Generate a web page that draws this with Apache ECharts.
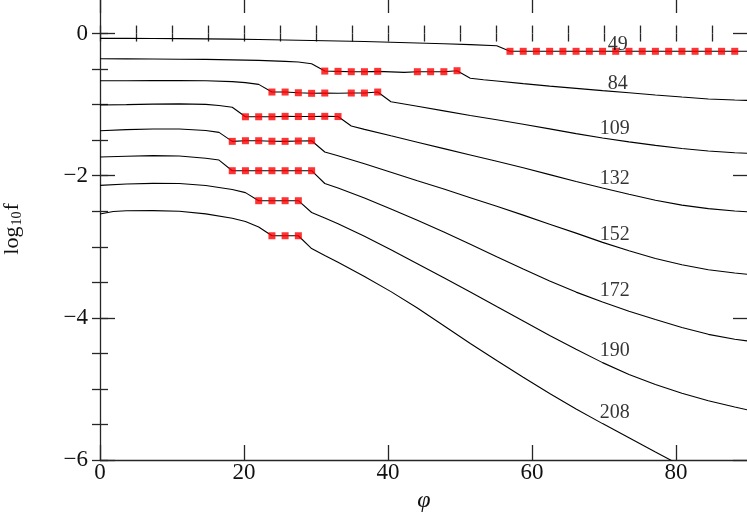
<!DOCTYPE html>
<html>
<head>
<meta charset="utf-8">
<script src="https://cdn.jsdelivr.net/npm/echarts@6/dist/echarts.min.js"></script>
<style>
html,body{margin:0;padding:0;background:#fff;}
#chart{width:747px;height:514px;}
</style>
</head>
<body>
<div id="chart"></div>
<script>
// ---- data ----
const CURVE_NAMES = ['49', '84', '109', '132', '152', '172', '190', '208'];

const PHI_49 = [0, 3.67, 7.35, 11.02, 14.69, 18.37, 22.04, 25.71, 29.39, 33.06, 36.73, 40.41, 44.08, 47.76, 51.43, 55.10, 56.94, 58.78, 60.61, 62.45, 64.29, 66.12, 67.96, 69.80, 71.63, 73.47, 75.31, 77.14, 78.98, 80.82, 82.65, 84.49, 86.33, 88.16, 90.00];
const LOGF_49 = [-0.068, -0.068, -0.069, -0.072, -0.075, -0.079, -0.084, -0.090, -0.097, -0.104, -0.113, -0.122, -0.133, -0.144, -0.156, -0.172, -0.250, -0.250, -0.250, -0.250, -0.250, -0.250, -0.250, -0.250, -0.250, -0.250, -0.250, -0.250, -0.250, -0.250, -0.250, -0.250, -0.250, -0.250, -0.250];
const MARK_49 = [56.94, 58.78, 60.61, 62.45, 64.29, 66.12, 67.96, 69.80, 71.63, 73.47, 75.31, 77.14, 78.98, 80.82, 82.65, 84.49, 86.33, 88.16];

const PHI_84 = [0, 3.67, 7.35, 11.02, 14.69, 18.37, 22.04, 25.71, 27.55, 29.39, 31.22, 33.06, 34.90, 36.73, 38.57, 40.41, 42.24, 44.08, 45.92, 47.76, 49.59, 51.43, 53.27, 55.10, 58.78, 62.45, 66.12, 69.80, 73.47, 77.14, 80.82, 84.49, 88.16, 90.00];
const LOGF_84 = [-0.355, -0.356, -0.359, -0.362, -0.364, -0.370, -0.378, -0.391, -0.401, -0.425, -0.528, -0.532, -0.537, -0.537, -0.532, -0.539, -0.546, -0.537, -0.537, -0.537, -0.523, -0.630, -0.650, -0.668, -0.705, -0.740, -0.772, -0.803, -0.833, -0.864, -0.893, -0.920, -0.936, -0.940];
const MARK_84 = [31.22, 33.06, 34.90, 36.73, 38.57, 44.08, 45.92, 47.76, 49.59];

const PHI_109 = [0, 3.67, 7.35, 11.02, 14.69, 18.37, 20.20, 22.04, 23.88, 25.71, 27.55, 29.39, 31.22, 33.06, 34.90, 36.73, 38.57, 40.41, 42.24, 44.08, 47.76, 51.43, 55.10, 58.78, 62.45, 66.12, 69.80, 73.47, 77.14, 80.82, 84.49, 88.16, 90.00];
const LOGF_109 = [-0.665, -0.664, -0.663, -0.663, -0.665, -0.677, -0.691, -0.715, -0.823, -0.823, -0.833, -0.841, -0.837, -0.841, -0.837, -0.837, -0.823, -0.960, -0.992, -1.024, -1.088, -1.152, -1.214, -1.276, -1.341, -1.408, -1.469, -1.524, -1.573, -1.617, -1.652, -1.677, -1.685];
const MARK_109 = [23.88, 25.71, 27.55, 29.39, 31.22, 34.90, 36.73, 38.57];

const PHI_132 = [0, 3.67, 7.35, 11.02, 14.69, 16.53, 18.37, 20.20, 22.04, 23.88, 25.71, 27.55, 29.39, 31.22, 33.06, 34.90, 36.73, 40.41, 44.08, 47.76, 51.43, 55.10, 58.78, 62.45, 66.12, 69.80, 73.47, 77.14, 80.82, 84.49, 88.16, 90.00];
const LOGF_132 = [-1.006, -1.000, -0.993, -0.989, -0.996, -1.013, -1.038, -1.171, -1.171, -1.171, -1.165, -1.168, -1.168, -1.165, -1.168, -1.301, -1.348, -1.439, -1.529, -1.619, -1.709, -1.798, -1.889, -1.985, -2.081, -2.174, -2.262, -2.345, -2.414, -2.463, -2.497, -2.508];
const MARK_132 = [20.20, 22.04, 23.88, 25.71, 27.55, 29.39, 31.22, 33.06];

const PHI_152 = [0, 3.67, 7.35, 11.02, 14.69, 16.53, 18.37, 20.20, 22.04, 23.88, 25.71, 27.55, 29.39, 31.22, 33.06, 36.73, 40.41, 44.08, 47.76, 51.43, 55.10, 58.78, 62.45, 66.12, 69.80, 73.47, 77.14, 80.82, 84.49, 88.16, 90.00];
const LOGF_152 = [-1.368, -1.352, -1.344, -1.344, -1.365, -1.390, -1.517, -1.508, -1.508, -1.515, -1.517, -1.512, -1.508, -1.667, -1.719, -1.833, -1.951, -2.070, -2.188, -2.309, -2.430, -2.555, -2.682, -2.808, -2.938, -3.057, -3.164, -3.254, -3.323, -3.370, -3.388];
const MARK_152 = [18.37, 20.20, 22.04, 23.88, 25.71, 27.55, 29.39];

const PHI_172 = [0, 3.67, 7.35, 11.02, 14.69, 16.53, 18.37, 20.20, 22.04, 23.88, 25.71, 27.55, 29.39, 31.22, 33.06, 36.73, 40.41, 44.08, 47.76, 51.43, 55.10, 58.78, 62.45, 66.12, 69.80, 73.47, 77.14, 80.82, 84.49, 88.16, 90.00];
const LOGF_172 = [-1.738, -1.726, -1.718, -1.722, -1.754, -1.780, -1.930, -1.930, -1.930, -1.930, -1.930, -1.930, -1.930, -2.110, -2.174, -2.314, -2.469, -2.628, -2.793, -2.964, -3.139, -3.312, -3.482, -3.638, -3.778, -3.906, -4.024, -4.135, -4.232, -4.301, -4.326];
const MARK_172 = [18.37, 20.20, 22.04, 23.88, 25.71, 27.55, 29.39];

const PHI_190 = [0, 3.67, 7.35, 11.02, 14.69, 18.37, 20.20, 22.04, 23.88, 25.71, 27.55, 29.39, 31.22, 33.06, 36.73, 40.41, 44.08, 47.76, 51.43, 55.10, 58.78, 62.45, 66.12, 69.80, 73.47, 77.14, 80.82, 84.49, 88.16, 90.00];
const LOGF_190 = [-2.136, -2.117, -2.108, -2.110, -2.138, -2.195, -2.238, -2.352, -2.352, -2.352, -2.352, -2.518, -2.596, -2.675, -2.852, -3.043, -3.240, -3.437, -3.637, -3.841, -4.045, -4.249, -4.443, -4.630, -4.796, -4.938, -5.062, -5.167, -5.255, -5.297];
const MARK_190 = [22.04, 23.88, 25.71, 27.55];

const PHI_208 = [0, 1.84, 3.67, 7.35, 11.02, 14.69, 18.37, 20.20, 22.04, 23.88, 25.71, 27.55, 29.39, 31.22, 33.06, 36.73, 40.41, 44.08, 47.76, 51.43, 55.10, 58.78, 62.45, 66.12, 69.80, 73.47, 77.14, 80.82, 84.49, 88.16, 90.00];
const LOGF_208 = [-2.539, -2.504, -2.494, -2.492, -2.501, -2.537, -2.599, -2.645, -2.722, -2.845, -2.845, -2.845, -3.025, -3.123, -3.219, -3.419, -3.631, -3.862, -4.111, -4.360, -4.601, -4.835, -5.065, -5.283, -5.488, -5.688, -5.888, -6.085, -6.273, -6.456, -6.545];
const MARK_208 = [23.88, 25.71, 27.55];

// curve labels: where each label sits (phi, log10 f)
const LABEL_PHI = [71.9, 71.9, 71.5, 71.5, 71.5, 71.5, 71.5, 71.5];
const LABEL_LOGF = [-0.162, -0.703, -1.346, -2.050, -2.824, -3.620, -4.464, -5.332];

// axis ticks
const X_MIN = 0, X_MAX = 90, X_MAJOR = 20, X_MINOR = 5;
const Y_MIN = -6, Y_MAX = 0.5, Y_MAJOR = 2, Y_MINOR = 0.5;

// ---- chart ----
const CURVES = [
  [PHI_49, LOGF_49, MARK_49], [PHI_84, LOGF_84, MARK_84], [PHI_109, LOGF_109, MARK_109],
  [PHI_132, LOGF_132, MARK_132], [PHI_152, LOGF_152, MARK_152], [PHI_172, LOGF_172, MARK_172],
  [PHI_190, LOGF_190, MARK_190], [PHI_208, LOGF_208, MARK_208]
];

const FONT = "'Liberation Serif', 'DejaVu Serif', serif";
const AX = '#262626';
const fmt = v => (v < 0 ? '\u2212' + Math.abs(v) : String(v));

const series = [];
CURVES.forEach(([phi, logf, mark], i) => {
  series.push({
    type: 'line', name: CURVE_NAMES[i], xAxisIndex: 0, yAxisIndex: 0,
    data: phi.map((p, j) => [p, logf[j]]),
    showSymbol: false, symbol: 'none', smooth: false, clip: true, z: 2,
    lineStyle: { color: '#000', width: 1.1 }, silent: true, animation: false
  });
  series.push({
    type: 'scatter', xAxisIndex: 0, yAxisIndex: 0,
    data: mark.map(p => [p, logf[phi.indexOf(p)]]),
    symbol: 'rect', symbolSize: 7, z: 3,
    itemStyle: { color: '#ff0000' }, silent: true, animation: false
  });
});
series.push({
  type: 'scatter', xAxisIndex: 0, yAxisIndex: 0, z: 5,
  data: CURVE_NAMES.map((n, i) => ({ name: n, value: [LABEL_PHI[i], LABEL_LOGF[i]] })),
  symbol: 'circle', symbolSize: 1, itemStyle: { color: 'rgba(0,0,0,0)' }, silent: true, animation: false,
  label: { show: true, position: 'inside', formatter: p => p.name,
           fontFamily: FONT, fontSize: 20, color: '#000' }
});

const tickAxis = (extra) => Object.assign({
  type: 'value', splitLine: { show: false },
  axisLine: { show: true, onZero: false, lineStyle: { color: AX, width: 1.3 } },
  axisTick: { show: true, inside: true, length: 15, lineStyle: { color: AX, width: 1.3 } },
  axisLabel: { show: false }
}, extra);

const minorTick = { show: true, inside: true, length: 8, lineStyle: { color: AX, width: 1.3 } };

const option = {
  backgroundColor: '#fff',
  animation: false,
  grid: [
    { left: 100, top: -2, width: 648, height: 462, outerBoundsMode: 'none', containLabel: false },
    { left: 100, top: -2, width: 648, height: 462, outerBoundsMode: 'none', containLabel: false }
  ],
  xAxis: [
    tickAxis({ gridIndex: 0, position: 'bottom', min: X_MIN, max: X_MAX, interval: X_MAJOR,
      axisLabel: { show: true, showMaxLabel: false, margin: 1, fontFamily: FONT, fontSize: 23, color: '#111', formatter: fmt },
      name: '\u03c6', nameLocation: 'middle', nameGap: 22,
      nameTextStyle: { fontFamily: FONT, fontStyle: 'italic', fontSize: 24, color: '#111' } }),
    tickAxis({ gridIndex: 0, position: 'top', min: X_MIN, max: X_MAX, interval: X_MAJOR }),
    tickAxis({ gridIndex: 1, position: 'bottom', min: X_MIN, max: X_MAX, interval: X_MINOR,
      axisLine: { show: false }, axisTick: minorTick }),
    tickAxis({ gridIndex: 1, position: 'top', min: X_MIN, max: X_MAX, interval: X_MINOR,
      axisLine: { show: false }, axisTick: minorTick })
  ],
  yAxis: [
    tickAxis({ gridIndex: 0, position: 'left', min: Y_MIN, max: Y_MAX, interval: Y_MAJOR,
      axisLabel: { show: true, showMaxLabel: false, margin: 12, fontFamily: FONT, fontSize: 23, color: '#111', formatter: fmt },
      name: '{a|log}{s|10}{a|f}', nameLocation: 'middle', nameGap: 76,
      nameTextStyle: { color: '#111', fontFamily: FONT, fontSize: 22,
        rich: { a: { fontFamily: FONT, fontSize: 22, color: '#111' },
                s: { fontFamily: FONT, fontSize: 14, color: '#111', padding: [9, 1, 0, 1] } } } }),
    tickAxis({ gridIndex: 0, position: 'right', min: Y_MIN, max: Y_MAX, interval: Y_MAJOR }),
    tickAxis({ gridIndex: 1, position: 'left', min: Y_MIN, max: Y_MAX, interval: Y_MINOR,
      axisLine: { show: false }, axisTick: minorTick }),
    tickAxis({ gridIndex: 1, position: 'right', min: Y_MIN, max: Y_MAX, interval: Y_MINOR,
      axisLine: { show: false }, axisTick: minorTick })
  ],
  series: series
};

const chart = echarts.init(document.getElementById('chart'), null, { renderer: 'canvas' });
chart.setOption(option);
</script>
</body>
</html>
